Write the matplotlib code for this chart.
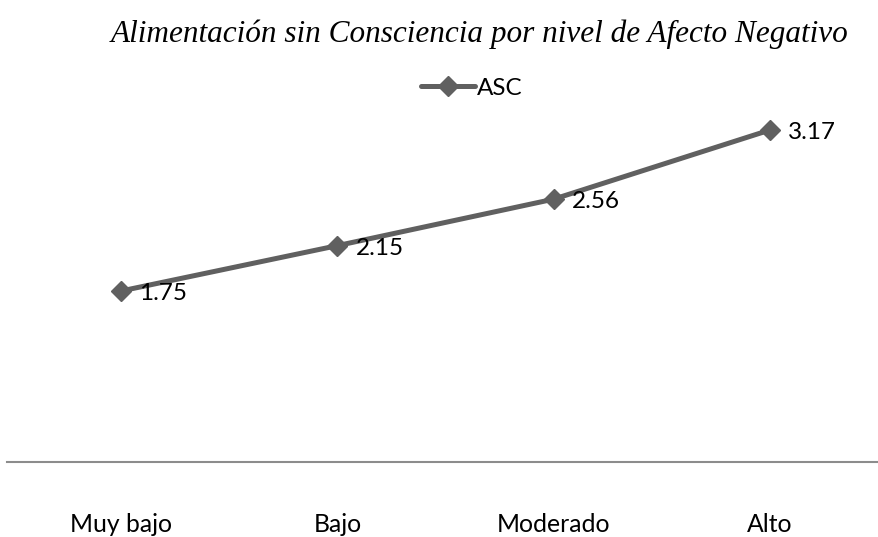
import matplotlib
matplotlib.use("Agg")
import matplotlib.pyplot as plt

categories = ["Muy bajo", "Bajo", "Moderado", "Alto"]
values = [1.75, 2.15, 2.56, 3.17]
series_name = "ASC"
title = "Alimentación sin Consciencia por nivel de Afecto Negativo"

color = "#606060"
sans = ["Lato", "DejaVu Sans"]

fig = plt.figure(figsize=(8.79, 5.37), dpi=100)
ax = fig.add_axes([7/879, (537-462)/537, 872/879, 362/537])

x = list(range(len(categories)))
line, = ax.plot(x, values, color=color, lw=3.6, marker="D", markersize=10.5,
                solid_capstyle="round", label=series_name, zorder=3)

for xi, v in zip(x, values):
    ax.annotate(f"{v:.2f}", (xi, v), xytext=(13, -2), textcoords="offset points",
                ha="left", va="center", fontsize=17.5, family=sans, color="black")

ax.set_xlim(-0.527, 3.504)
scale = 113.38
ax.set_ylim(1.75 - (462-291)/scale, 1.75 + (291-100)/scale)
ax.set_xticks(x)
ax.set_xticklabels(categories, family=sans, fontsize=17.8)
ax.tick_params(axis="x", length=0, pad=37)
ax.set_yticks([])
for s in ["top", "right", "left"]:
    ax.spines[s].set_visible(False)
ax.spines["bottom"].set_color("#8c8c8c")
ax.spines["bottom"].set_linewidth(1.5)

fig.text(480/879, 1-34/537, title, ha="center", va="center",
         family="Liberation Serif", style="italic", fontsize=22.5)

fig.legend(handles=[line], loc="center", bbox_to_anchor=(472/879, 1-88/537),
           frameon=False, prop={"family": sans, "size": 17.5},
           handlelength=2.2, handletextpad=0.1, markerscale=1.0)

fig.savefig("out.png", dpi=100, facecolor="white")
